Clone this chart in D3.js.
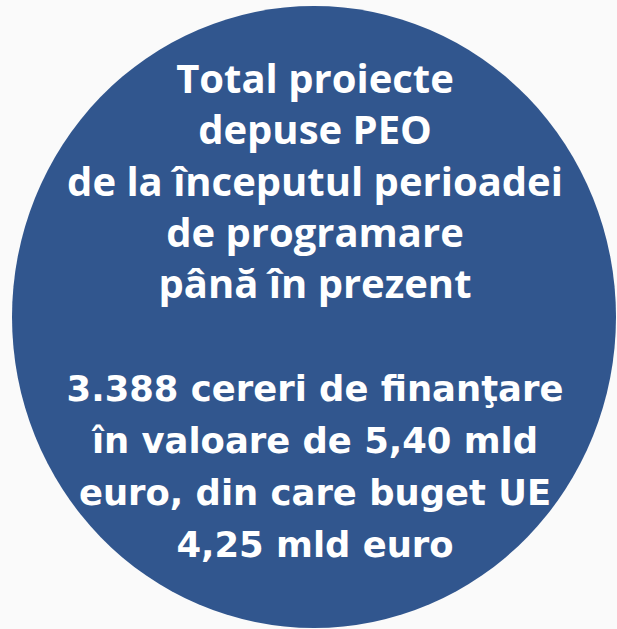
<!DOCTYPE html>
<html><head><meta charset="utf-8">
<script src="https://cdn.jsdelivr.net/npm/d3@7"></script>
<style>html,body{margin:0;padding:0;background:#fafafa;overflow:hidden}</style>
</head><body>
<svg id="c" width="617" height="629"></svg>
<script>
const titleLines = ["Total proiecte", "depuse PEO", "de la începutul perioadei", "de programare", "până în prezent"];
const valueLines = ["3.388 cereri de finanţare", "în valoare de 5,40 mld", "euro, din care buget UE", "4,25 mld euro"];

const svg = d3.select("#c");
svg.append("rect").attr("width",617).attr("height",629).attr("fill","#fafafa");
svg.append("ellipse").attr("cx",314).attr("cy",317).attr("rx",302).attr("ry",311).attr("fill","#31568e");

function fitSize(lines, family, target){
  const t = svg.append("text").attr("font-family",family).attr("font-weight","bold").attr("font-size",100);
  let w = 0;
  lines.forEach(l => { t.text(l); w = Math.max(w, t.node().getComputedTextLength()); });
  t.remove();
  return 100*target/w;
}

const fT = "'Open Sans', sans-serif";
const sT = fitSize(titleLines, fT, 496);
const yT = d3.scalePoint().domain(d3.range(titleLines.length)).range([93, 298]);
svg.selectAll("text.t").data(titleLines).join("text").attr("class","t")
  .attr("x",315).attr("y",(d,i)=>yT(i)).attr("text-anchor","middle")
  .attr("fill","#fff").attr("font-family",fT).attr("font-weight","bold")
  .attr("font-size",sT).text(d=>d);

const fV = "'DejaVu Sans', sans-serif";
const sV = fitSize(valueLines, fV, 497);
const yV = d3.scalePoint().domain(d3.range(valueLines.length)).range([401, 557]);
svg.selectAll("text.v").data(valueLines).join("text").attr("class","v")
  .attr("x",315).attr("y",(d,i)=>yV(i)).attr("text-anchor","middle")
  .attr("fill","#fff").attr("font-family",fV).attr("font-weight","bold")
  .attr("font-size",sV).text(d=>d);
</script>
</body></html>
